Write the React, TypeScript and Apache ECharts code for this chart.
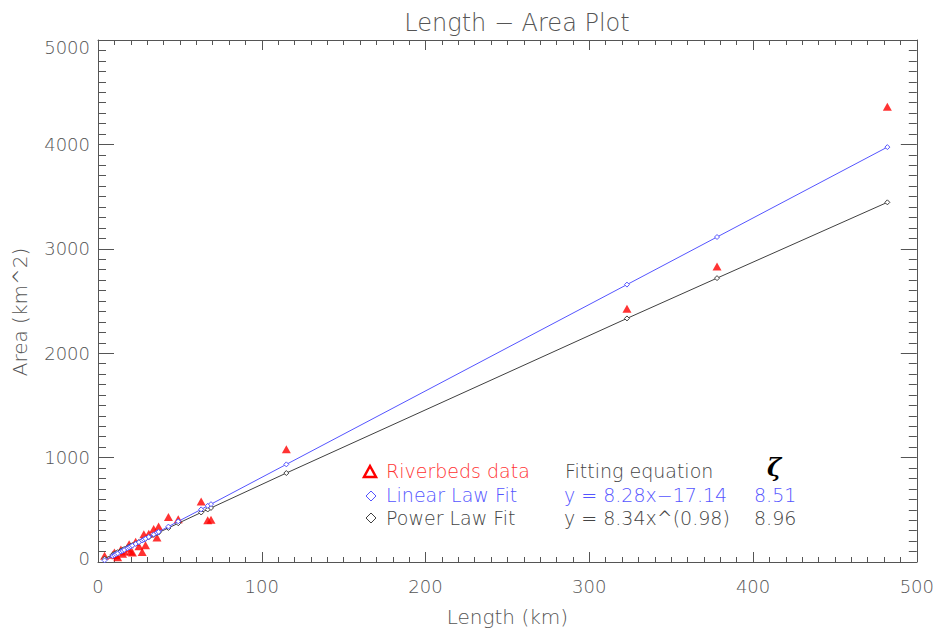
import React, { useEffect, useRef } from "react";
import * as echarts from "echarts";

const lengthKm = [4, 9, 10, 11, 12, 14, 15, 16, 18, 19, 20, 21, 23, 25, 27, 28, 29, 31, 34, 36, 37, 43, 49, 63, 67, 69, 115, 323, 378, 482];
const areaKm2 = [60, 70, 90, 65, 45, 120, 80, 100, 130, 170, 100, 90, 195, 150, 95, 265, 160, 270, 315, 235, 340, 430, 410, 580, 400, 405, 1080, 2425, 2830, 4360];
const linearFit = [16, 57, 66, 74, 82, 99, 107, 115, 132, 140, 148, 157, 173, 190, 206, 215, 223, 240, 264, 281, 289, 339, 389, 504, 538, 554, 935, 2657, 3113, 3974];
const powerFit = [32, 71, 79, 86, 94, 109, 117, 125, 140, 147, 155, 162, 177, 192, 207, 215, 222, 237, 260, 275, 282, 326, 371, 474, 503, 518, 852, 2333, 2719, 3445];
const xTicks = [0, 100, 200, 300, 400, 500];
const yTicks = [0, 1000, 2000, 3000, 4000, 5000];

const FONT = "DejaVu Sans";
const AX = "#555555";

export default function App() {
  const ref = useRef<HTMLDivElement>(null);
  useEffect(() => {
    const chart = echarts.init(ref.current!, null, { renderer: "svg" });
    const pairs = (ys: number[]) => lengthKm.map((x, i) => [x, ys[i]]);
    const yMax = yTicks[yTicks.length - 1];
    const xBase = {
      type: "value",
      min: xTicks[0],
      max: xTicks[xTicks.length - 1],
      interval: 100,
      axisLine: { show: true, onZero: false, lineStyle: { color: AX, width: 1 } },
      axisTick: { show: true, inside: true, length: 10, lineStyle: { color: AX } },
      minorTick: { show: true, splitNumber: 10, length: 5, lineStyle: { color: AX } },
      splitLine: { show: false },
    };
    const yBase = {
      type: "value",
      min: yTicks[0],
      max: yMax,
      interval: 1000,
      axisLine: { show: true, onZero: false, lineStyle: { color: AX, width: 1 } },
      axisTick: { show: true, inside: true, length: 16, lineStyle: { color: AX } },
      minorTick: { show: true, splitNumber: 10, length: 8, lineStyle: { color: AX } },
      splitLine: { show: false },
    };
    const legendText = (x: number, y: number, text: string, fill: string) => ({
      type: "text",
      x,
      y,
      style: { text, fill, font: `300 19px "${FONT}"`, textVerticalAlign: "middle" },
    });
    chart.setOption({
      animation: false,
      backgroundColor: "#ffffff",
      title: {
        text: "Length \u2212 Area Plot",
        left: 512,
        top: 6,
        textAlign: "center",
        textStyle: { fontFamily: FONT, fontWeight: 300, fontSize: 24, color: AX },
      },
      grid: { left: 98, right: 20, top: 40, bottom: 62 },
      xAxis: [
        {
          ...xBase,
          position: "bottom",
          name: "Length (km)",
          nameLocation: "middle",
          nameGap: 45,
          nameTextStyle: { fontFamily: FONT, fontWeight: 300, fontSize: 20, color: AX },
          axisLabel: { show: true, margin: 15, fontFamily: FONT, fontWeight: 300, fontSize: 18, color: AX, formatter: (v: number) => String(v) },
        },
        { ...xBase, position: "top", axisLabel: { show: false } },
      ],
      yAxis: [
        {
          ...yBase,
          position: "left",
          name: "Area (km^2)",
          nameLocation: "middle",
          nameGap: 68,
          nameTextStyle: { fontFamily: FONT, fontWeight: 300, fontSize: 20, color: AX, padding: [0, 22, 0, 0] },
          axisLabel: {
            show: true,
            margin: 8,
            fontFamily: FONT,
            fontWeight: 300,
            fontSize: 18,
            color: AX,
            formatter: (v: number) => (v === yMax ? `{top|${v}}` : v === 0 ? `{bot|${v}}` : String(v)),
            rich: {
              top: { fontFamily: FONT, fontWeight: 300, fontSize: 18, color: AX, padding: [14, 0, 0, 0] },
              bot: { fontFamily: FONT, fontWeight: 300, fontSize: 18, color: AX, padding: [0, 0, 8, 0] },
            },
          },
        },
        { ...yBase, position: "right", axisLabel: { show: false } },
      ],
      series: [
        {
          name: "Riverbeds data",
          type: "scatter",
          data: pairs(areaKm2),
          symbol: "triangle",
          symbolSize: [9, 8],
          itemStyle: { color: "#ff0000" },
          z: 2,
        },
        {
          name: "Power Law Fit",
          type: "line",
          data: pairs(powerFit),
          symbol: "diamond",
          symbolSize: 5,
          showSymbol: true,
          itemStyle: { color: "#ffffff", borderColor: "#404040", borderWidth: 1 },
          lineStyle: { color: "#404040", width: 1 },
          z: 3,
        },
        {
          name: "Linear Law Fit",
          type: "line",
          data: pairs(linearFit),
          symbol: "diamond",
          symbolSize: 5,
          showSymbol: true,
          itemStyle: { color: "#ffffff", borderColor: "#5555ff", borderWidth: 1 },
          lineStyle: { color: "#5555ff", width: 1 },
          z: 4,
        },
      ],
      graphic: [
        {
          type: "polygon",
          shape: { points: [[370, 466], [376, 477], [364, 477]] },
          style: { fill: "none", stroke: "#ff0000", lineWidth: 2.5 },
        },
        {
          type: "polygon",
          shape: { points: [[371, 491], [376, 496], [371, 501], [366, 496]] },
          style: { fill: "none", stroke: "#5555ff", lineWidth: 1 },
        },
        {
          type: "polygon",
          shape: { points: [[371, 513], [376, 518], [371, 523], [366, 518]] },
          style: { fill: "none", stroke: "#404040", lineWidth: 1 },
        },
        legendText(386, 471, "Riverbeds data", "#ff3333"),
        legendText(565, 471, "Fitting equation", "#444444"),
        {
          type: "text",
          x: 767,
          y: 467,
          style: { text: "\u03b6", fill: "#000000", font: 'italic bold 24px "DejaVu Serif"', textVerticalAlign: "middle" },
        },
        legendText(386, 495, "Linear Law Fit", "#5555ff"),
        legendText(564, 495, "y = 8.28x\u221217.14", "#5555ff"),
        legendText(754, 495, "8.51", "#5555ff"),
        legendText(386, 518, "Power Law Fit", "#444444"),
        legendText(564, 518, "y = 8.34x^(0.98)", "#444444"),
        legendText(754, 518, "8.96", "#444444"),
      ],
    });
    return () => chart.dispose();
  }, []);
  return <div ref={ref} style={{ width: 937, height: 632, position: "absolute", left: 0, top: 0 }} />;
}
